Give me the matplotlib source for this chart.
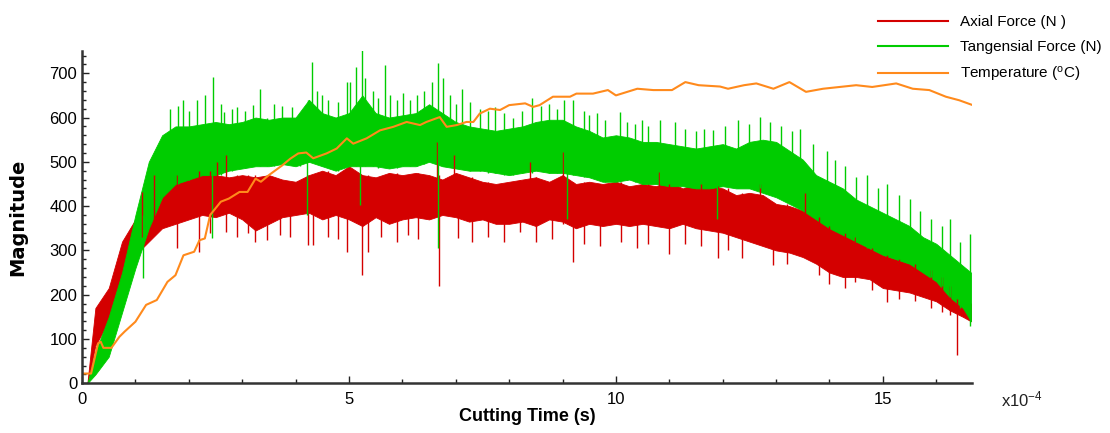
import matplotlib
matplotlib.use("Agg")
import matplotlib.pyplot as plt
from matplotlib.ticker import MultipleLocator
from matplotlib.lines import Line2D

plt.rcParams['font.family'] = ['Liberation Sans', 'DejaVu Sans']
plt.rcParams['mathtext.default'] = 'regular'

# ---------------- data (time in units of 1e-4 s) ----------------
band_t = [0.1, 0.25, 0.5, 0.75, 1.0, 1.25, 1.5, 1.75, 2.0, 2.25, 2.5, 2.75, 3.0, 3.25, 3.5,
          3.75, 4.0, 4.25, 4.5, 4.75, 5.0, 5.25, 5.5, 5.75, 6.0, 6.25, 6.5, 6.75, 7.0, 7.25,
          7.5, 7.75, 8.0, 8.25, 8.5, 8.75, 9.0, 9.25, 9.5, 9.75, 10.0, 10.25, 10.5, 10.75,
          11.0, 11.25, 11.5, 11.75, 12.0, 12.25, 12.5, 12.75, 13.0, 13.25, 13.5, 13.75, 14.0,
          14.25, 14.5, 14.75, 15.0, 15.25, 15.5, 15.75, 16.0, 16.25, 16.5, 16.65]

axial_hi = [0, 170, 215, 320, 370, 430, 450, 470, 475, 480, 470, 465, 470, 465, 470,
            460, 455, 470, 480, 470, 490, 470, 465, 475, 470, 475, 470, 460, 475, 465,
            455, 450, 455, 460, 465, 455, 470, 450, 455, 450, 455, 445, 450, 445,
            455, 440, 450, 445, 440, 425, 430, 425, 405, 400, 390, 375, 355,
            340, 320, 305, 290, 280, 270, 255, 240, 210, 190, 180]
axial_lo = [0, 85, 140, 240, 290, 320, 350, 360, 370, 380, 375, 385, 370, 345, 360,
            375, 380, 385, 370, 380, 370, 355, 375, 360, 370, 375, 370, 380, 375, 365,
            370, 360, 360, 365, 355, 370, 365, 350, 360, 355, 360, 355, 360, 355,
            350, 360, 350, 345, 340, 330, 320, 310, 300, 295, 285, 270, 250,
            240, 240, 235, 215, 210, 205, 195, 185, 165, 150, 140]

tang_hi = [0, 70, 150, 250, 380, 500, 560, 580, 580, 585, 590, 585, 590, 600, 595,
           600, 600, 640, 610, 600, 610, 650, 610, 600, 605, 610, 630, 610, 590, 580,
           575, 570, 575, 580, 590, 595, 595, 580, 570, 555, 560, 555, 545, 545,
           540, 535, 530, 535, 540, 530, 545, 550, 545, 525, 505, 470, 455,
           440, 415, 400, 385, 370, 355, 330, 315, 290, 265, 250]
tang_lo = [0, 20, 60, 160, 260, 350, 420, 450, 460, 470, 470, 480, 485, 490, 490,
           495, 490, 500, 490, 480, 490, 490, 490, 485, 490, 490, 500, 490, 485, 480,
           480, 475, 470, 475, 480, 475, 475, 470, 465, 455, 455, 460, 450, 450,
           445, 445, 440, 440, 445, 440, 440, 430, 420, 405, 390, 370, 350,
           335, 320, 305, 290, 280, 270, 250, 230, 195, 170, 140]

# spikes: time, low end, high end
axial_spk_t  = [1.12, 1.34, 1.77, 2.2, 2.4, 2.52, 2.7, 2.9, 3.1, 3.24, 3.46, 3.7, 3.9, 4.24,
                4.33, 4.6, 4.8, 4.96, 5.24, 5.36, 5.6, 5.9, 6.1, 6.3, 6.64, 6.69, 6.96, 7.05,
                7.3, 7.6, 7.9, 8.2, 8.39, 8.5, 8.8, 9.0, 9.2, 9.4, 9.7, 10.1, 10.4, 10.6,
                10.8, 11.0, 11.3, 11.6, 11.92, 12.1, 12.36, 12.7, 12.95, 13.2, 13.54, 13.8,
                14.0, 14.3, 14.47, 14.8, 15.07, 15.3, 15.6, 15.9, 16.1, 16.26, 16.38]
axial_spk_lo = [330, 340, 305, 297, 340, 380, 342, 330, 340, 320, 323, 335, 330, 312,
                312, 330, 325, 297, 244, 297, 330, 320, 335, 325, 380, 220, 380, 327,
                320, 330, 320, 342, 370, 320, 325, 360, 274, 315, 310, 320, 305, 315,
                360, 293, 315, 310, 282, 300, 282, 330, 267, 270, 290, 245,
                225, 215, 229, 210, 184, 190, 185, 170, 160, 154, 64]
axial_spk_hi = [432, 470, 470, 480, 480, 500, 515, 470, 470, 470, 470, 460, 455, 470,
                470, 480, 470, 480, 470, 470, 465, 475, 470, 475, 545, 470, 515, 470,
                465, 455, 450, 460, 500, 465, 455, 523, 455, 455, 450, 455, 445, 450,
                477, 450, 440, 450, 445, 440, 430, 450, 410, 405, 430, 375,
                355, 340, 330, 305, 290, 280, 270, 255, 240, 220, 190]

tang_spk_t  = [1.15, 1.65, 1.8, 1.9, 2.0, 2.15, 2.3, 2.43, 2.45, 2.6, 2.65, 2.8, 2.9, 3.05,
               3.2, 3.33, 3.46, 3.6, 3.75, 3.93, 4.08, 4.21, 4.24, 4.3, 4.4, 4.5, 4.6, 4.8,
               4.96, 5.02, 5.14, 5.2, 5.24, 5.3, 5.45, 5.55, 5.68, 5.77, 5.9, 6.02, 6.15,
               6.27, 6.4, 6.55, 6.67, 6.77, 6.9, 7.0, 7.11, 7.27, 7.45, 7.6, 7.73, 7.9,
               8.08, 8.25, 8.42, 8.6, 8.75, 8.9, 9.02, 9.08, 9.2, 9.4, 9.5, 9.64, 9.8,
               10.08, 10.2, 10.35, 10.48, 10.6, 10.83, 11.1, 11.3, 11.5, 11.65, 11.82,
               11.9, 12.05, 12.29, 12.5, 12.7, 12.88, 13.1, 13.3, 13.44, 13.7, 13.95, 14.1,
               14.3, 14.5, 14.7, 14.9, 15.07, 15.3, 15.5, 15.7, 15.9, 16.1, 16.26, 16.45,
               16.63]
tang_spk_lo = [237, 450, 450, 460, 460, 470, 470, 327, 480, 470, 480, 480, 485, 485,
               490, 490, 490, 490, 495, 495, 490, 380, 500, 500, 500, 490, 490, 480,
               490, 490, 490, 402, 490, 490, 490, 485, 490, 485, 485, 490, 490,
               490, 495, 500, 305, 490, 490, 485, 485, 480, 480, 475, 475, 470,
               470, 475, 475, 480, 475, 475, 475, 372, 470, 465, 465, 465, 455,
               455, 460, 455, 450, 450, 450, 445, 445, 440, 440, 440,
               372, 445, 440, 440, 440, 430, 420, 410, 410, 380, 370, 360,
               340, 320, 305, 300, 290, 280, 270, 255, 240, 220, 195, 170,
               130]
tang_spk_hi = [380, 620, 625, 640, 615, 640, 650, 580, 692, 630, 613, 620, 624, 615,
               628, 665, 600, 630, 625, 624, 601, 590, 640, 725, 660, 650, 640, 635,
               680, 680, 715, 610, 752, 690, 660, 645, 718, 650, 640, 655, 640,
               650, 660, 680, 722, 690, 650, 630, 665, 635, 620, 615, 624, 610,
               600, 615, 643, 625, 630, 620, 639, 560, 639, 615, 605, 610, 595,
               613, 590, 585, 594, 580, 594, 590, 575, 570, 575, 571,
               530, 580, 594, 585, 601, 590, 580, 570, 575, 540, 525, 505,
               490, 465, 470, 440, 450, 425, 415, 390, 370, 355, 370, 320,
               338]

temp_t = [0.0, 0.17, 0.3, 0.35, 0.4, 0.55, 0.7, 0.8, 1.0, 1.2, 1.4, 1.6, 1.75, 1.9, 2.1,
          2.2, 2.3, 2.4, 2.5, 2.6, 2.75, 2.95, 3.1, 3.25, 3.35, 3.5, 3.75, 3.9, 4.05, 4.2,
          4.33, 4.58, 4.77, 4.96, 5.08, 5.33, 5.58, 5.83, 6.08, 6.33, 6.45, 6.7, 6.83,
          7.02, 7.2, 7.33, 7.45, 7.64, 7.83, 8.0, 8.3, 8.45, 8.57, 8.82, 9.14, 9.26, 9.57,
          9.85, 10.0, 10.4, 10.7, 11.05, 11.3, 11.55, 11.95, 12.1, 12.4, 12.63, 12.95,
          13.25, 13.56, 13.88, 14.19, 14.5, 14.8, 15.25, 15.56, 15.87, 16.18, 16.43, 16.66]
temp_v = [22, 22, 90, 94, 80, 80, 105, 117, 139, 177, 188, 229, 244, 289, 297,
          323, 327, 380, 395, 410, 417, 432, 432, 462, 455, 470, 492, 507, 519, 521,
          508, 519, 530, 553, 541, 553, 571, 579, 590, 583, 590, 601, 579,
          583, 590, 590, 609, 620, 617, 628, 632, 624, 628, 647, 647, 654, 654,
          662, 650, 665, 662, 662, 680, 673, 670, 665, 673, 677, 665,
          680, 658, 665, 669, 673, 669, 677, 665, 662, 647, 639, 629]

labels = ['Axial Force (N )', 'Tangensial Force (N)', r'Temperature ($^{o}$C)']
colors = ['#d40000', '#00cc00', '#ff8a1c']

# ---------------- figure ----------------
fig = plt.figure(figsize=(11.10, 4.33), dpi=100)
ax = fig.add_axes([0.0739, 0.1148, 0.8018, 0.7672])

ax.fill_between(band_t, axial_lo, axial_hi, color=colors[0], linewidth=0.6, edgecolor=colors[0])
ax.vlines(axial_spk_t, axial_spk_lo, axial_spk_hi, color=colors[0], linewidth=1.0)
ax.fill_between(band_t, tang_lo, tang_hi, color=colors[1], linewidth=0.6, edgecolor=colors[1])
ax.vlines(tang_spk_t, tang_spk_lo, tang_spk_hi, color=colors[1], linewidth=1.0)
ax.plot(temp_t, temp_v, color=colors[2], linewidth=1.5)

ax.set_xlim(0, 16.67)
ax.set_ylim(0, 750)
ax.xaxis.set_major_locator(MultipleLocator(5))
ax.xaxis.set_minor_locator(MultipleLocator(1))
ax.yaxis.set_minor_locator(MultipleLocator(20))
ax.set_yticks(range(0, 701, 100))
ax.tick_params(which='both', direction='in', color='#222222', labelsize=12, width=1)
ax.tick_params(which='major', length=5)
ax.tick_params(which='minor', length=3)
ax.tick_params(axis='x', pad=6)
for s in ['top', 'right']:
    ax.spines[s].set_visible(False)
for s in ['left', 'bottom']:
    ax.spines[s].set_color('#333333')
    ax.spines[s].set_linewidth(1.8)

ax.set_xlabel('Cutting Time (s)', fontsize=13, fontweight='bold', labelpad=1)
ax.set_ylabel('Magnitude', fontsize=14, fontweight='bold', family=['DejaVu Sans'], labelpad=16)
ax.text(1.033, -0.018, r'x10$^{-4}$', transform=ax.transAxes, fontsize=12,
        ha='left', va='top', color='#222222')

handles = [Line2D([0], [0], color=c, linewidth=1.5) for c in colors]
fig.legend(handles, labels, loc='upper left', bbox_to_anchor=(0.791, 0.965),
           frameon=False, fontsize=11, handlelength=4.6, handletextpad=0.75,
           labelspacing=0.72, borderpad=0, borderaxespad=0)

fig.savefig('out.png', dpi=100)
